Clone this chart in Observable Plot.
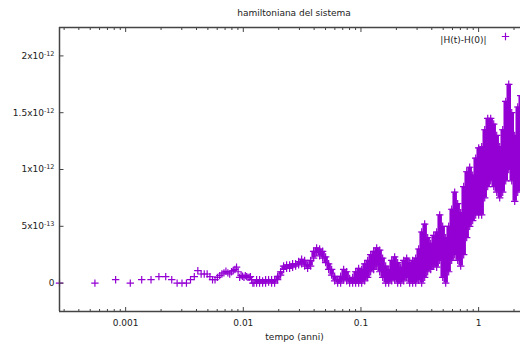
<!DOCTYPE html>
<html><head><meta charset="utf-8">
<script src="https://cdn.jsdelivr.net/npm/d3@7"></script>
<script src="https://cdn.jsdelivr.net/npm/@observablehq/plot@0.6"></script>
<style>html,body{margin:0;padding:0;background:#fff}svg{display:block}</style>
</head><body><div id="chart"></div>
<script>
const TITLE = "hamiltoniana del sistema";
const X_LABEL = "tempo (anni)";
const SERIES_NAME = "|H(t)-H(0)|";
const COLOR = "#9400d3";

// early, individually visible points: time (years) and |H(t)-H(0)| in units of 1e-12
const earlyTime = [0.000274, 0.000548, 0.000822, 0.001095, 0.001369, 0.001643, 0.001917, 0.00219, 0.002464, 0.002738,
  0.003012, 0.003286, 0.003559, 0.003833, 0.004107, 0.004381, 0.004655, 0.004928, 0.005202, 0.005476,
  0.00575, 0.006023, 0.006297, 0.006571, 0.006845, 0.007118, 0.007392, 0.007666, 0.00794, 0.008214,
  0.008487, 0.008761, 0.009035, 0.009309, 0.009582, 0.009856, 0.01013, 0.0104, 0.01068, 0.01095,
  0.01123, 0.0115, 0.01177, 0.01205, 0.01232];
const earlyValue = [0, 0, 0.03, 0, 0.03, 0.03, 0.057, 0.057, 0.03, 0,
  0, 0, 0.03, 0.057, 0.11, 0.08, 0.08, 0.08, 0.057, 0.03,
  0.03, 0.05, 0.066, 0.08, 0.09, 0.104, 0.09, 0.08, 0.1, 0.11,
  0.12, 0.14, 0.1, 0.05, 0.066, 0.06, 0.05, 0.066, 0.057, 0.05,
  0.05, 0.057, 0.03, 0, 0];

// dense part: time (years) with lowest and highest |H(t)-H(0)| of the crowded points (units of 1e-12)
const denseTime = [0.01297, 0.01375, 0.01459, 0.01547, 0.0164, 0.0174, 0.01845, 0.01957, 0.02075, 0.022,
  0.02334, 0.02475, 0.02625, 0.02784, 0.02952, 0.03131, 0.0332, 0.03521, 0.03734, 0.0396,
  0.042, 0.04454, 0.04723, 0.05009, 0.05312, 0.05634, 0.05974, 0.06336, 0.06719, 0.07126,
  0.07557, 0.08014, 0.08499, 0.09013, 0.09559, 0.1014, 0.1075, 0.114, 0.1209, 0.1282,
  0.136, 0.1442, 0.1529, 0.1622, 0.172, 0.1824, 0.1934, 0.2051, 0.2175, 0.2307,
  0.2446, 0.2594, 0.2751, 0.2918, 0.3094, 0.3281, 0.348, 0.369, 0.3914, 0.415,
  0.4401, 0.4668, 0.495, 0.525, 0.5567, 0.5904, 0.6261, 0.664, 0.7042, 0.7468,
  0.792, 0.8399, 0.8907, 0.9446, 1.0017, 1.062, 1.127, 1.195, 1.267, 1.344,
  1.425, 1.511, 1.603, 1.7, 1.803, 1.912, 2.027, 2.15, 2.28];
const denseLow = [0, 0, 0, 0, 0.01, 0, 0, 0.03, 0.07, 0.12,
  0.13, 0.13, 0.14, 0.15, 0.16, 0.17, 0.15, 0.13, 0.15, 0.22,
  0.27, 0.24, 0.22, 0.18, 0.12, 0.07, 0.02, 0, 0, 0.03,
  0.02, 0, 0, 0, 0, 0, 0.02, 0.05, 0.1, 0.12,
  0.15, 0.1, 0.05, 0, 0, 0.02, 0.03, 0, 0, 0.02,
  0.05, 0, 0, 0, 0.03, 0, 0.05, 0.1, 0.12, 0.15,
  0.14, 0.2, 0.05, 0, 0.1, 0.2, 0.25, 0.2, 0.15, 0.25,
  0.4, 0.5, 0.55, 0.6, 0.6, 0.6, 0.75, 0.85, 0.9, 0.85,
  0.8, 0.75, 0.8, 0.9, 1.0, 0.9, 0.72, 0.8, 0.9];
const denseHigh = [0.03, 0.03, 0.02, 0.03, 0.03, 0.03, 0.03, 0.06, 0.1, 0.15,
  0.16, 0.16, 0.17, 0.17, 0.19, 0.21, 0.2, 0.16, 0.2, 0.28,
  0.31, 0.3, 0.28, 0.23, 0.17, 0.12, 0.06, 0.03, 0.06, 0.12,
  0.1, 0.04, 0.05, 0.1, 0.13, 0.12, 0.17, 0.2, 0.25, 0.28,
  0.31, 0.29, 0.22, 0.15, 0.12, 0.2, 0.23, 0.18, 0.14, 0.2,
  0.22, 0.18, 0.2, 0.22, 0.3, 0.45, 0.52, 0.4, 0.35, 0.42,
  0.45, 0.6, 0.5, 0.4, 0.5, 0.65, 0.8, 0.7, 0.62, 0.85,
  0.98, 1.02, 0.95, 1.1, 1.19, 1.2, 1.35, 1.45, 1.45, 1.4,
  1.3, 1.2, 1.35, 1.6, 1.75, 1.5, 1.3, 1.55, 1.65];

const X_DOMAIN = [0.000274, 2.27];
const Y_DOMAIN = [-0.25, 2.25];
const xTicks = [0.001, 0.01, 0.1, 1];
const xTickLabels = ["0.001", "0.01", "0.1", "1"];
const xMinorTicks = [0.0003, 0.0004, 0.0005, 0.0006, 0.0007, 0.0008, 0.0009,
  0.002, 0.003, 0.004, 0.005, 0.006, 0.007, 0.008, 0.009,
  0.02, 0.03, 0.04, 0.05, 0.06, 0.07, 0.08, 0.09,
  0.2, 0.3, 0.4, 0.5, 0.6, 0.7, 0.8, 0.9, 2];
const yTicks = [0, 0.5, 1, 1.5, 2];
const yTickLabels = ["0", "5x10^-13", "1x10^-12", "1.5x10^-12", "2x10^-12"];

const early = earlyTime.map((t, i) => ({t, v: earlyValue[i]}));
const dense = denseTime.map((t, i) => ({t, lo: denseLow[i], hi: denseHigh[i]}));

const radius = (size) => Math.sqrt(size / Math.PI);
const plusSym = {draw(c, s) { const r = radius(s); c.moveTo(-r, 0); c.lineTo(r, 0); c.moveTo(0, -r); c.lineTo(0, r); }};
const tickUp = {draw(c, s) { const r = radius(s); c.moveTo(0, 0); c.lineTo(0, -r); }};
const tickDown = {draw(c, s) { const r = radius(s); c.moveTo(0, 0); c.lineTo(0, r); }};
const tickRight = {draw(c, s) { const r = radius(s); c.moveTo(0, 0); c.lineTo(r, 0); }};

const AX = "#444";
const pointStyle = {symbol: plusSym, r: 3.7, stroke: COLOR, fill: "none", strokeWidth: 1.2};
const tickStyle = (symbol, r) => ({symbol, r, stroke: AX, fill: "none", strokeWidth: 1});

const chart = Plot.plot({
  width: 520, height: 351,
  marginLeft: 59, marginRight: 0, marginTop: 27, marginBottom: 40,
  style: {fontFamily: "DejaVu Sans", fontSize: "9px", color: "#222", background: "#fff", overflow: "visible"},
  x: {type: "log", domain: X_DOMAIN},
  y: {domain: Y_DOMAIN},
  marks: [
    Plot.ruleX(dense, {x: "t", y1: "lo", y2: "hi", stroke: COLOR, strokeWidth: 4.5}),
    Plot.dot(early, {x: "t", y: "v", ...pointStyle}),
    Plot.dot(dense, {x: "t", y: "lo", ...pointStyle}),
    Plot.dot(dense, {x: "t", y: "hi", ...pointStyle}),
    Plot.ruleY(Y_DOMAIN, {stroke: AX, strokeWidth: 1.5}),
    Plot.ruleX([X_DOMAIN[0]], {stroke: AX, strokeWidth: 1.5}),
    Plot.dot(xTicks, {x: d => d, frameAnchor: "bottom", ...tickStyle(tickUp, 4.5)}),
    Plot.dot(xMinorTicks, {x: d => d, frameAnchor: "bottom", ...tickStyle(tickUp, 2.5)}),
    Plot.dot(xTicks, {x: d => d, frameAnchor: "top", ...tickStyle(tickDown, 4.5)}),
    Plot.dot(xMinorTicks, {x: d => d, frameAnchor: "top", ...tickStyle(tickDown, 2.5)}),
    Plot.dot(yTicks, {y: d => d, frameAnchor: "left", ...tickStyle(tickRight, 4)}),
    Plot.axisX({ticks: xTicks, tickFormat: d => xTickLabels[xTicks.indexOf(d)], tickSize: 0, tickPadding: 8, label: null}),
    Plot.axisY({ticks: yTicks, tickFormat: d => yTickLabels[yTicks.indexOf(d)], tickSize: 0, tickPadding: 5, label: null}),
    Plot.text([TITLE], {frameAnchor: "top", dx: 4, dy: -18, fill: "#222"}),
    Plot.text([X_LABEL], {frameAnchor: "bottom", dx: 4.5, dy: 28, fill: "#222"}),
    Plot.text([SERIES_NAME], {frameAnchor: "top-right", dx: -34, dy: 9, textAnchor: "end", fill: "#222"}),
    Plot.dot([SERIES_NAME], {frameAnchor: "top-right", dx: -15, dy: 9, ...pointStyle})
  ]
});

// render the "^exponent" part of tick labels as superscript
d3.select(chart).selectAll("text").each(function() {
  const s = this.textContent;
  const k = s.indexOf("^");
  if (k < 0 || this.querySelector("tspan")) return;
  const el = d3.select(this);
  el.text(null);
  el.append("tspan").text(s.slice(0, k));
  el.append("tspan").attr("dy", "-0.45em").attr("font-size", "0.72em").text(s.slice(k + 1));
});

document.getElementById("chart").appendChild(chart);
</script>
</body></html>
